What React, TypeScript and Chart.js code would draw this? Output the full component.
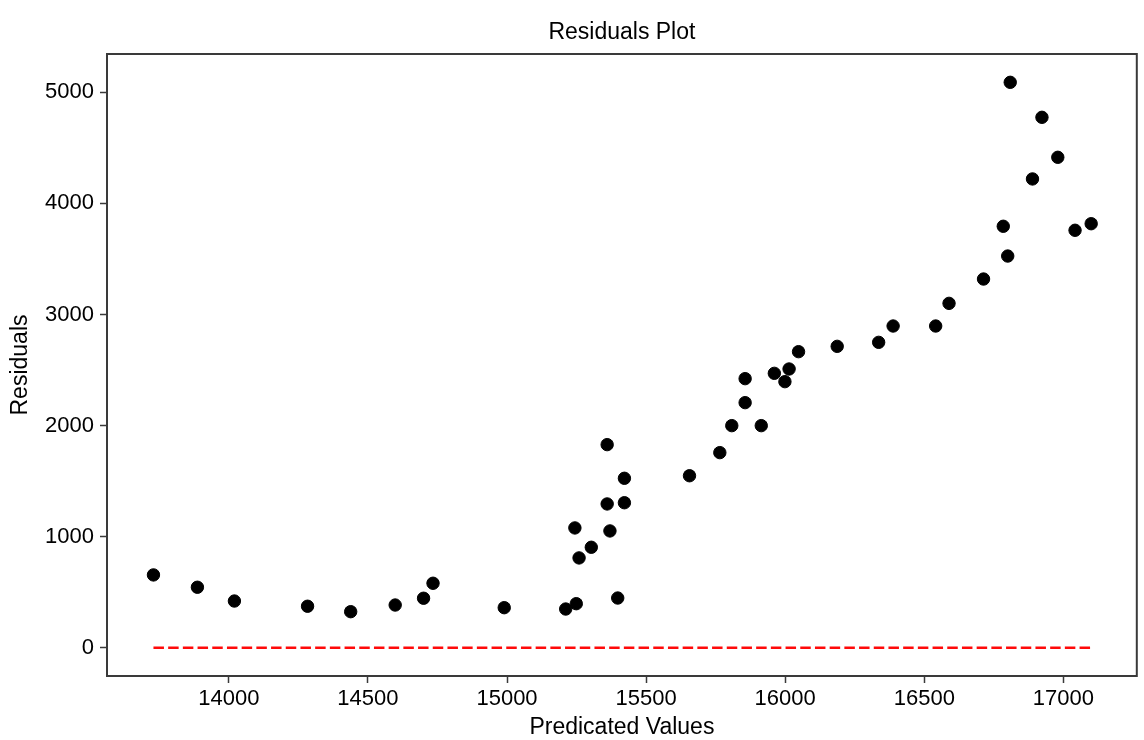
import React, { useEffect, useRef } from "react";
import { Chart, registerables } from "chart.js";

Chart.register(...registerables);

const predictedValues: number[] = [
  13729, 13887, 14020, 14283, 14438, 14598, 14700, 14734, 14990, 15211, 15249,
  15398, 15259, 15303, 15244, 15370, 15360, 15422, 15422, 15360, 15656, 15765,
  15808, 15914, 15856, 15856, 15961, 15999, 16014, 16048, 16187, 16336, 16388,
  16541, 16589, 16713, 16784, 16800, 16809, 16889, 16923, 16980, 17042, 17100,
];

const residualValues: number[] = [
  655, 544, 420, 373, 324, 384, 445, 580, 360, 348, 396, 447, 808, 904, 1078,
  1051, 1294, 1305, 1525, 1828, 1548, 1756, 1999, 1999, 2206, 2422, 2470, 2395,
  2509, 2665, 2713, 2749, 2896, 2896, 3100, 3319, 3794, 3526, 5090, 4220, 4775,
  4415, 3758, 3817,
];

const xTickValues: number[] = [14000, 14500, 15000, 15500, 16000, 16500, 17000];
const yTickValues: number[] = [0, 1000, 2000, 3000, 4000, 5000];
const zeroLevel: number[] = [0];

const chartTitle = "Residuals Plot";
const xAxisTitle = "Predicated Values";
const yAxisTitle = "Residuals";

const FONT = "'Liberation Sans', Arial, Helvetica, sans-serif";

const framePlugin = {
  id: "frame",
  afterDatasetsDraw(chart: any) {
    const { ctx, chartArea } = chart;
    ctx.save();
    ctx.strokeStyle = "#3a3a3a";
    ctx.lineWidth = 2;
    ctx.strokeRect(
      chartArea.left,
      chartArea.top,
      chartArea.right - chartArea.left,
      chartArea.bottom - chartArea.top
    );
    ctx.restore();
  },
};

export default function App() {
  const canvasRef = useRef<HTMLCanvasElement | null>(null);

  useEffect(() => {
    if (!canvasRef.current) return;
    const points = predictedValues.map((x, i) => ({ x, y: residualValues[i] }));
    const minX = Math.min(...predictedValues);
    const maxX = Math.max(...predictedValues);
    const zeroLine = [
      { x: minX, y: zeroLevel[0] },
      { x: maxX, y: zeroLevel[0] },
    ];

    const chart = new Chart(canvasRef.current, {
      type: "scatter",
      data: {
        datasets: [
          {
            label: "zero",
            data: zeroLine,
            showLine: true,
            borderColor: "#ff0a0a",
            borderWidth: 2.6,
            borderDash: [10.5, 4.2],
            borderCapStyle: "butt",
            pointRadius: 0,
            fill: false,
            order: 2,
          } as any,
          {
            label: "residuals",
            data: points,
            backgroundColor: "#000000",
            borderColor: "#000000",
            borderWidth: 1,
            pointRadius: 6.2,
            pointHoverRadius: 6.2,
            order: 1,
          },
        ],
      },
      options: {
        animation: false,
        responsive: true,
        maintainAspectRatio: false,
        layout: { padding: { left: 0, right: 2, top: 0, bottom: 0 } },
        plugins: {
          legend: { display: false },
          tooltip: { enabled: false },
          title: {
            display: true,
            text: chartTitle,
            fullSize: false,
            color: "#000",
            font: { family: FONT, size: 23, weight: "normal" },
            padding: { top: 19, bottom: 7.4 },
          },
        },
        scales: {
          x: {
            type: "linear",
            min: 13562,
            max: 17264,
            afterBuildTicks: (s: any) => {
              s.ticks = xTickValues.map((v) => ({ value: v }));
            },
            afterFit: (s: any) => {
              s.height = 64;
            },
            grid: {
              display: true,
              drawOnChartArea: false,
              drawTicks: true,
              tickLength: 7,
              tickColor: "#3a3a3a",
              tickWidth: 1.5,
            },
            border: { display: false },
            ticks: {
              color: "#000",
              font: { family: FONT, size: 22 },
              padding: 3,
              maxRotation: 0,
              autoSkip: false,
              callback: (v: any) => String(v),
            },
            title: {
              display: true,
              text: xAxisTitle,
              color: "#000",
              font: { family: FONT, size: 23 },
              padding: { top: 0, bottom: -1 },
            },
          },
          y: {
            type: "linear",
            min: -255,
            max: 5345,
            afterBuildTicks: (s: any) => {
              s.ticks = yTickValues.map((v) => ({ value: v }));
            },
            afterFit: (s: any) => {
              s.width = 107;
            },
            grid: {
              display: true,
              drawOnChartArea: false,
              drawTicks: true,
              tickLength: 7,
              tickColor: "#3a3a3a",
              tickWidth: 1.5,
            },
            border: { display: false },
            ticks: {
              color: "#000",
              font: { family: FONT, size: 22 },
              padding: 6,
              autoSkip: false,
              callback: (v: any) => String(v),
            },
            title: {
              display: true,
              text: yAxisTitle,
              color: "#000",
              font: { family: FONT, size: 23 },
              padding: { top: 7, bottom: 0 },
            },
          },
        },
      },
      plugins: [framePlugin],
    });

    return () => {
      chart.destroy();
    };
  }, []);

  return (
    <div
      style={{
        position: "fixed",
        left: 0,
        top: 0,
        width: 1144,
        height: 740,
        background: "#ffffff",
      }}
    >
      <canvas ref={canvasRef} />
    </div>
  );
}
